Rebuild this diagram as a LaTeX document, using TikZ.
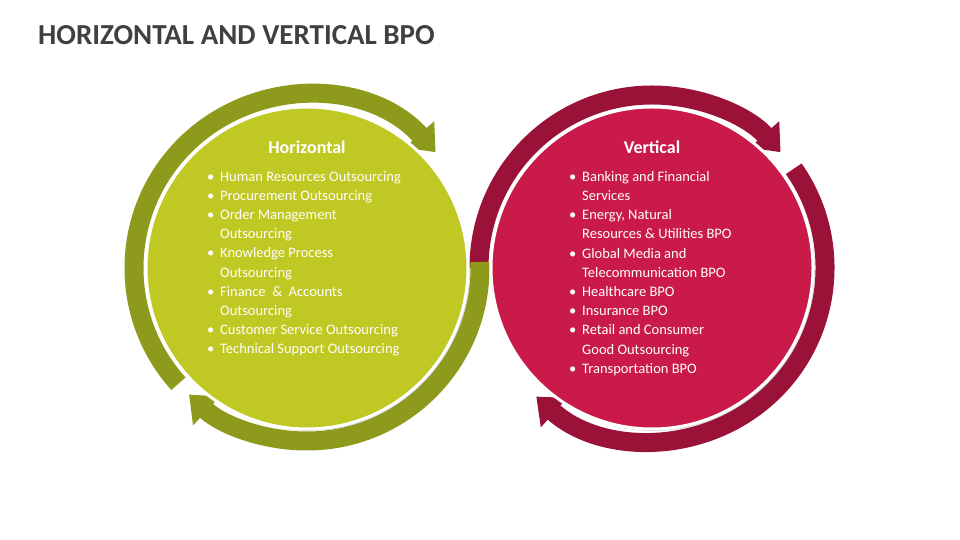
\documentclass[tikz,border=0pt]{standalone}
\usepackage{fontspec}
\setmainfont{Carlito}
\usetikzlibrary{arrows.meta,shadows,calc}
\definecolor{gring}{HTML}{8E9A1C}
\definecolor{gfill}{HTML}{C0C823}
\definecolor{rring}{HTML}{9A1238}
\definecolor{rfill}{HTML}{C91A4A}
\definecolor{ttl}{HTML}{404040}
\newcommand{\bl}[1]{\makebox[13pt][l]{•}#1}
\newcommand{\cl}[1]{\hspace*{13pt}#1}
\begin{document}
\begin{tikzpicture}[x=1pt,y=1pt,
  ring/.style={line width=19pt,-{Triangle[width=38pt,length=24pt]}},
  disc/.style={circle,minimum size=322pt,draw=white,line width=3pt,drop shadow={opacity=0.35,shadow xshift=2pt,shadow yshift=-2pt}},
  ttlf/.style={font=\fontsize{18}{20}\selectfont\bfseries,text=white},
  listf/.style={font=\fontsize{14.5}{19.2}\selectfont,text=white,align=left,anchor=north west,inner sep=0pt}]
\useasboundingbox (0,0) rectangle (960,540);
\node[anchor=west,inner sep=0pt,text=ttl,font=\fontsize{29}{32}\selectfont\bfseries] (title) at (38,505) {HORIZONTAL AND VERTICAL BPO};
\coordinate (lc) at (307,272);
\coordinate (rc) at (652,272);
% right ring
\draw[ring,rring] ($(rc)+(180:173)$) arc[start angle=180,end angle=42,radius=173];
\draw[ring,rring] ($(rc)+(35:173)$) arc[start angle=35,end angle=-132,radius=173];
% left ring
\draw[ring,gring] ($(lc)+(222:173)$) arc[start angle=222,end angle=42,radius=173];
\draw[ring,gring] ($(lc)+(2:173)$) arc[start angle=2,end angle=-133,radius=173];
\node[disc,fill=gfill] (ld) at (lc) {};
\node[disc,fill=rfill] (rd) at (rc) {};
\node[ttlf] (lt) at (307,393) {Horizontal};
\node[ttlf] (rt) at (652,393) {Vertical};
\node[listf] (ll) at (207,369) {\bl{Human Resources Outsourcing}\\\bl{Procurement Outsourcing}\\\bl{Order Management}\\\cl{Outsourcing}\\\bl{Knowledge Process}\\\cl{Outsourcing}\\\bl{Finance\ \ \&\ \ Accounts}\\\cl{Outsourcing}\\\bl{Customer Service Outsourcing}\\\bl{Technical Support Outsourcing}};
\node[listf] (rl) at (569,369) {\bl{Banking and Financial}\\\cl{Services}\\\bl{Energy, Natural}\\\cl{Resources \& Utilities BPO}\\\bl{Global Media and}\\\cl{Telecommunication BPO}\\\bl{Healthcare BPO}\\\bl{Insurance BPO}\\\bl{Retail and Consumer}\\\cl{Good Outsourcing}\\\bl{Transportation BPO}};
\end{tikzpicture}
\end{document}
